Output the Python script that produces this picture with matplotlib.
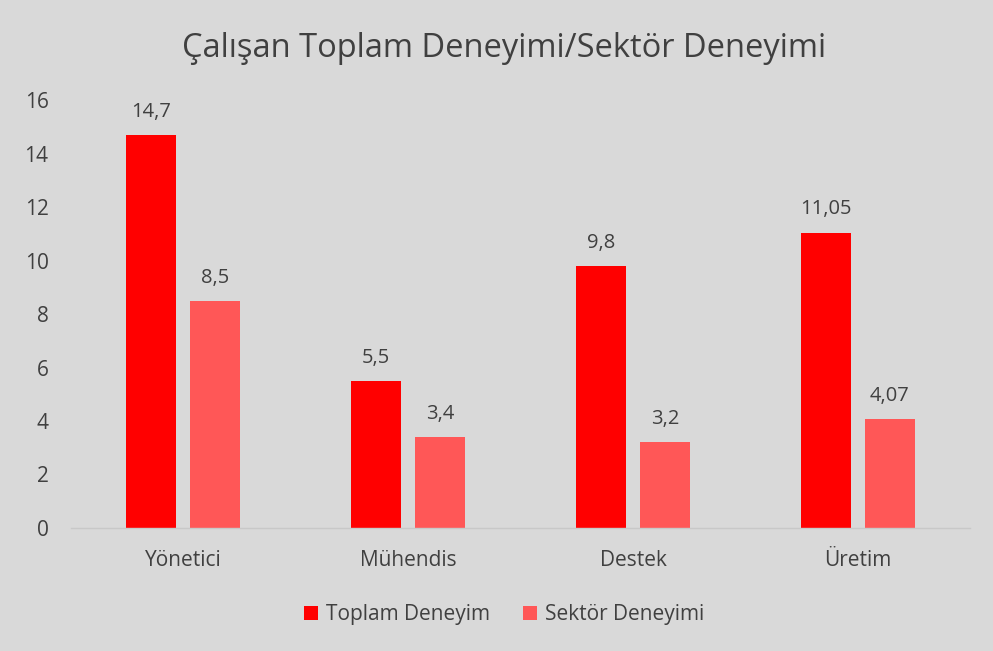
import matplotlib
matplotlib.use("Agg")
import matplotlib.pyplot as plt
import numpy as np

categories = ["Yönetici", "Mühendis", "Destek", "Üretim"]
toplam = [14.7, 5.5, 9.8, 11.05]
sektor = [8.5, 3.4, 3.2, 4.07]
toplam_labels = ["14,7", "5,5", "9,8", "11,05"]
sektor_labels = ["8,5", "3,4", "3,2", "4,07"]
series_names = ["Toplam Deneyim", "Sektör Deneyimi"]
yticks = [0, 2, 4, 6, 8, 10, 12, 14, 16]

plt.rcParams['font.family'] = ['Open Sans', 'DejaVu Sans']
bg = "#D9D9D9"
txt = "#404040"
c1 = "#FF0000"
c2 = "#FF5757"

fig = plt.figure(figsize=(9.93, 6.51), dpi=100, facecolor=bg)
ax = fig.add_axes([0.0712, 0.189, 0.906, 0.657])
ax.set_facecolor(bg)

x = np.arange(len(categories))
w = 0.222
off = 0.142
b1 = ax.bar(x - off, toplam, w, color=c1, label=series_names[0])
b2 = ax.bar(x + off, sektor, w, color=c2, label=series_names[1])

for bars, labs in ((b1, toplam_labels), (b2, sektor_labels)):
    for rect, lab in zip(bars, labs):
        ax.annotate(lab, (rect.get_x() + rect.get_width() / 2, rect.get_height()),
                    xytext=(0, 9.5), textcoords="offset points", ha="center", va="bottom",
                    fontsize=14.5, color=txt)

ax.set_xlim(-0.5, 3.5)
ax.set_ylim(0, 16)
ax.set_yticks(yticks)
ax.set_xticks(x)
ax.set_xticklabels(categories)
ax.tick_params(axis="both", length=0, labelsize=15, colors=txt)
ax.tick_params(axis="x", pad=16)
ax.tick_params(axis="y", pad=16)
for s in ["top", "right", "left"]:
    ax.spines[s].set_visible(False)
ax.spines["bottom"].set_color("#C8C8C8")
ax.spines["bottom"].set_linewidth(1)

fig.text(0.508, 0.925, "Çalışan Toplam Deneyimi/Sektör Deneyimi", ha="center", va="center",
         fontsize=23.5, color=txt)

leg = fig.legend(handles=[b1, b2], labels=series_names, loc="center", bbox_to_anchor=(0.508, 0.056),
                 ncol=2, frameon=False, fontsize=15, handlelength=0.65, handleheight=0.65,
                 handletextpad=0.4, columnspacing=1.6, labelcolor=txt)

fig.savefig("out.png", dpi=100, facecolor=bg)
